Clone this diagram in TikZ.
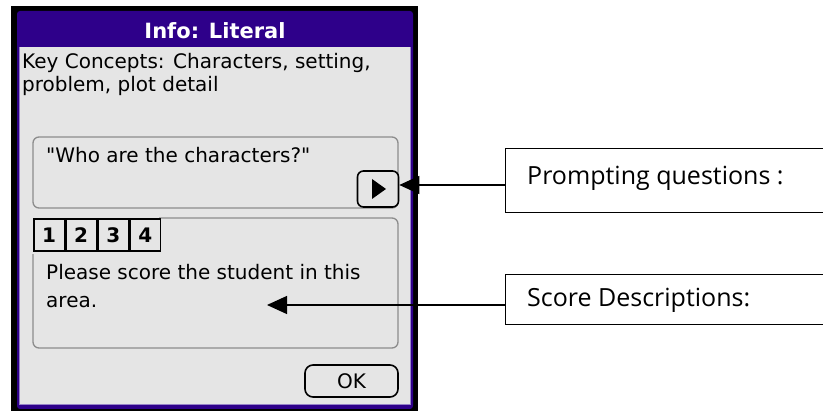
\documentclass[tikz,border=0pt]{standalone}
\usepackage{fontspec}
\setmainfont{DejaVu Sans}
\newfontfamily\palm{DejaVu Sans}
\newfontfamily\lab{Open Sans}
\usetikzlibrary{arrows.meta}
\definecolor{palmpurple}{RGB}{46,0,138}
\definecolor{palmgray}{RGB}{229,229,229}
\definecolor{palmline}{RGB}{140,140,140}
\definecolor{lightpurple}{RGB}{150,130,200}
\tikzset{
  palmtext/.style={font=\palm\fontsize{20}{22}\selectfont, inner sep=0pt, anchor=west, align=left},
  labelbox/.style={draw=black, line width=1.2pt, minimum height=#1, anchor=north west, inner sep=0pt, minimum width=330},
  labeltext/.style={font=\lab\fontsize{25}{28}\selectfont, inner sep=0pt, anchor=west},
  grayframe/.style={draw=palmline, line width=1.3pt, rounded corners=6},
  tab/.style={draw=black, line width=1.6pt, minimum width=30.5, minimum height=32, inner sep=0pt, anchor=north west, font=\palm\bfseries\fontsize{20}{20}\selectfont},
  pointer/.style={line width=1.2pt, -{Triangle[length=20, width=18]}},
}
\begin{document}
\begin{tikzpicture}[x=1pt,y=-1pt]
\useasboundingbox (0,0) rectangle (823,411);
\fill[white] (0,0) rectangle (823,411);
% device frame
\fill[black] (11,6) rectangle (418,411);
\fill[palmpurple, rounded corners=3] (17,11) rectangle (413,409);
\fill[lightpurple] (19,47) rectangle (411,405);
\fill[palmgray] (20,47) rectangle (410,404);
\node[font=\palm\bfseries\fontsize{21}{21}\selectfont, text=white, inner sep=0pt] (title) at (215,31) {Info: Literal};
\node[palmtext] (kc1) at (22,63) {Key Concepts: Characters, setting,};
\node[palmtext] (kc2) at (22,86) {problem, plot detail};
% prompting box
\draw[grayframe] (33,137) rectangle (398,208);
\node[palmtext] (q) at (46,155) {"Who are the characters?"};
\node[draw=black, fill=palmgray, line width=1.6pt, rounded corners=6, minimum width=41, minimum height=36, inner sep=0pt] (btn) at (378,189) {};
\fill[black] (372,179) -- (386,189) -- (372,199) -- cycle;
% score box
\draw[grayframe] (33,218) rectangle (398,348);
\fill[palmgray] (30,215) rectangle (159,254);
\node[tab] (t1) at (33,218) {1};
\node[tab] (t2) at (t1.north east) {2};
\node[tab] (t3) at (t2.north east) {3};
\node[tab] (t4) at (t3.north east) {4};
\node[palmtext] (s1) at (46,272) {Please score the student in this};
\node[palmtext] (s2) at (46,302) {area.};
\coordinate (sarea) at (267,305);
% OK button
\node[draw=black, line width=1.6pt, rounded corners=8, minimum width=93, minimum height=32, inner sep=0pt, font=\palm\fontsize{20}{20}\selectfont] (ok) at (351.5,381) {OK};
% labels
\node[labelbox=64] (pq) at (505,148) {};
\node[labeltext] at (527,178) {Prompting questions :};
\node[labelbox=50] (sd) at (505,274) {};
\node[labeltext] at (527,300) {Score Descriptions:};
\coordinate (pqa) at (505,185);
\coordinate (sda) at (505,305);
\draw[pointer] (pqa) -- (btn.east |- pqa);
\draw[pointer] (sda) -- (sarea);
\end{tikzpicture}
\end{document}
